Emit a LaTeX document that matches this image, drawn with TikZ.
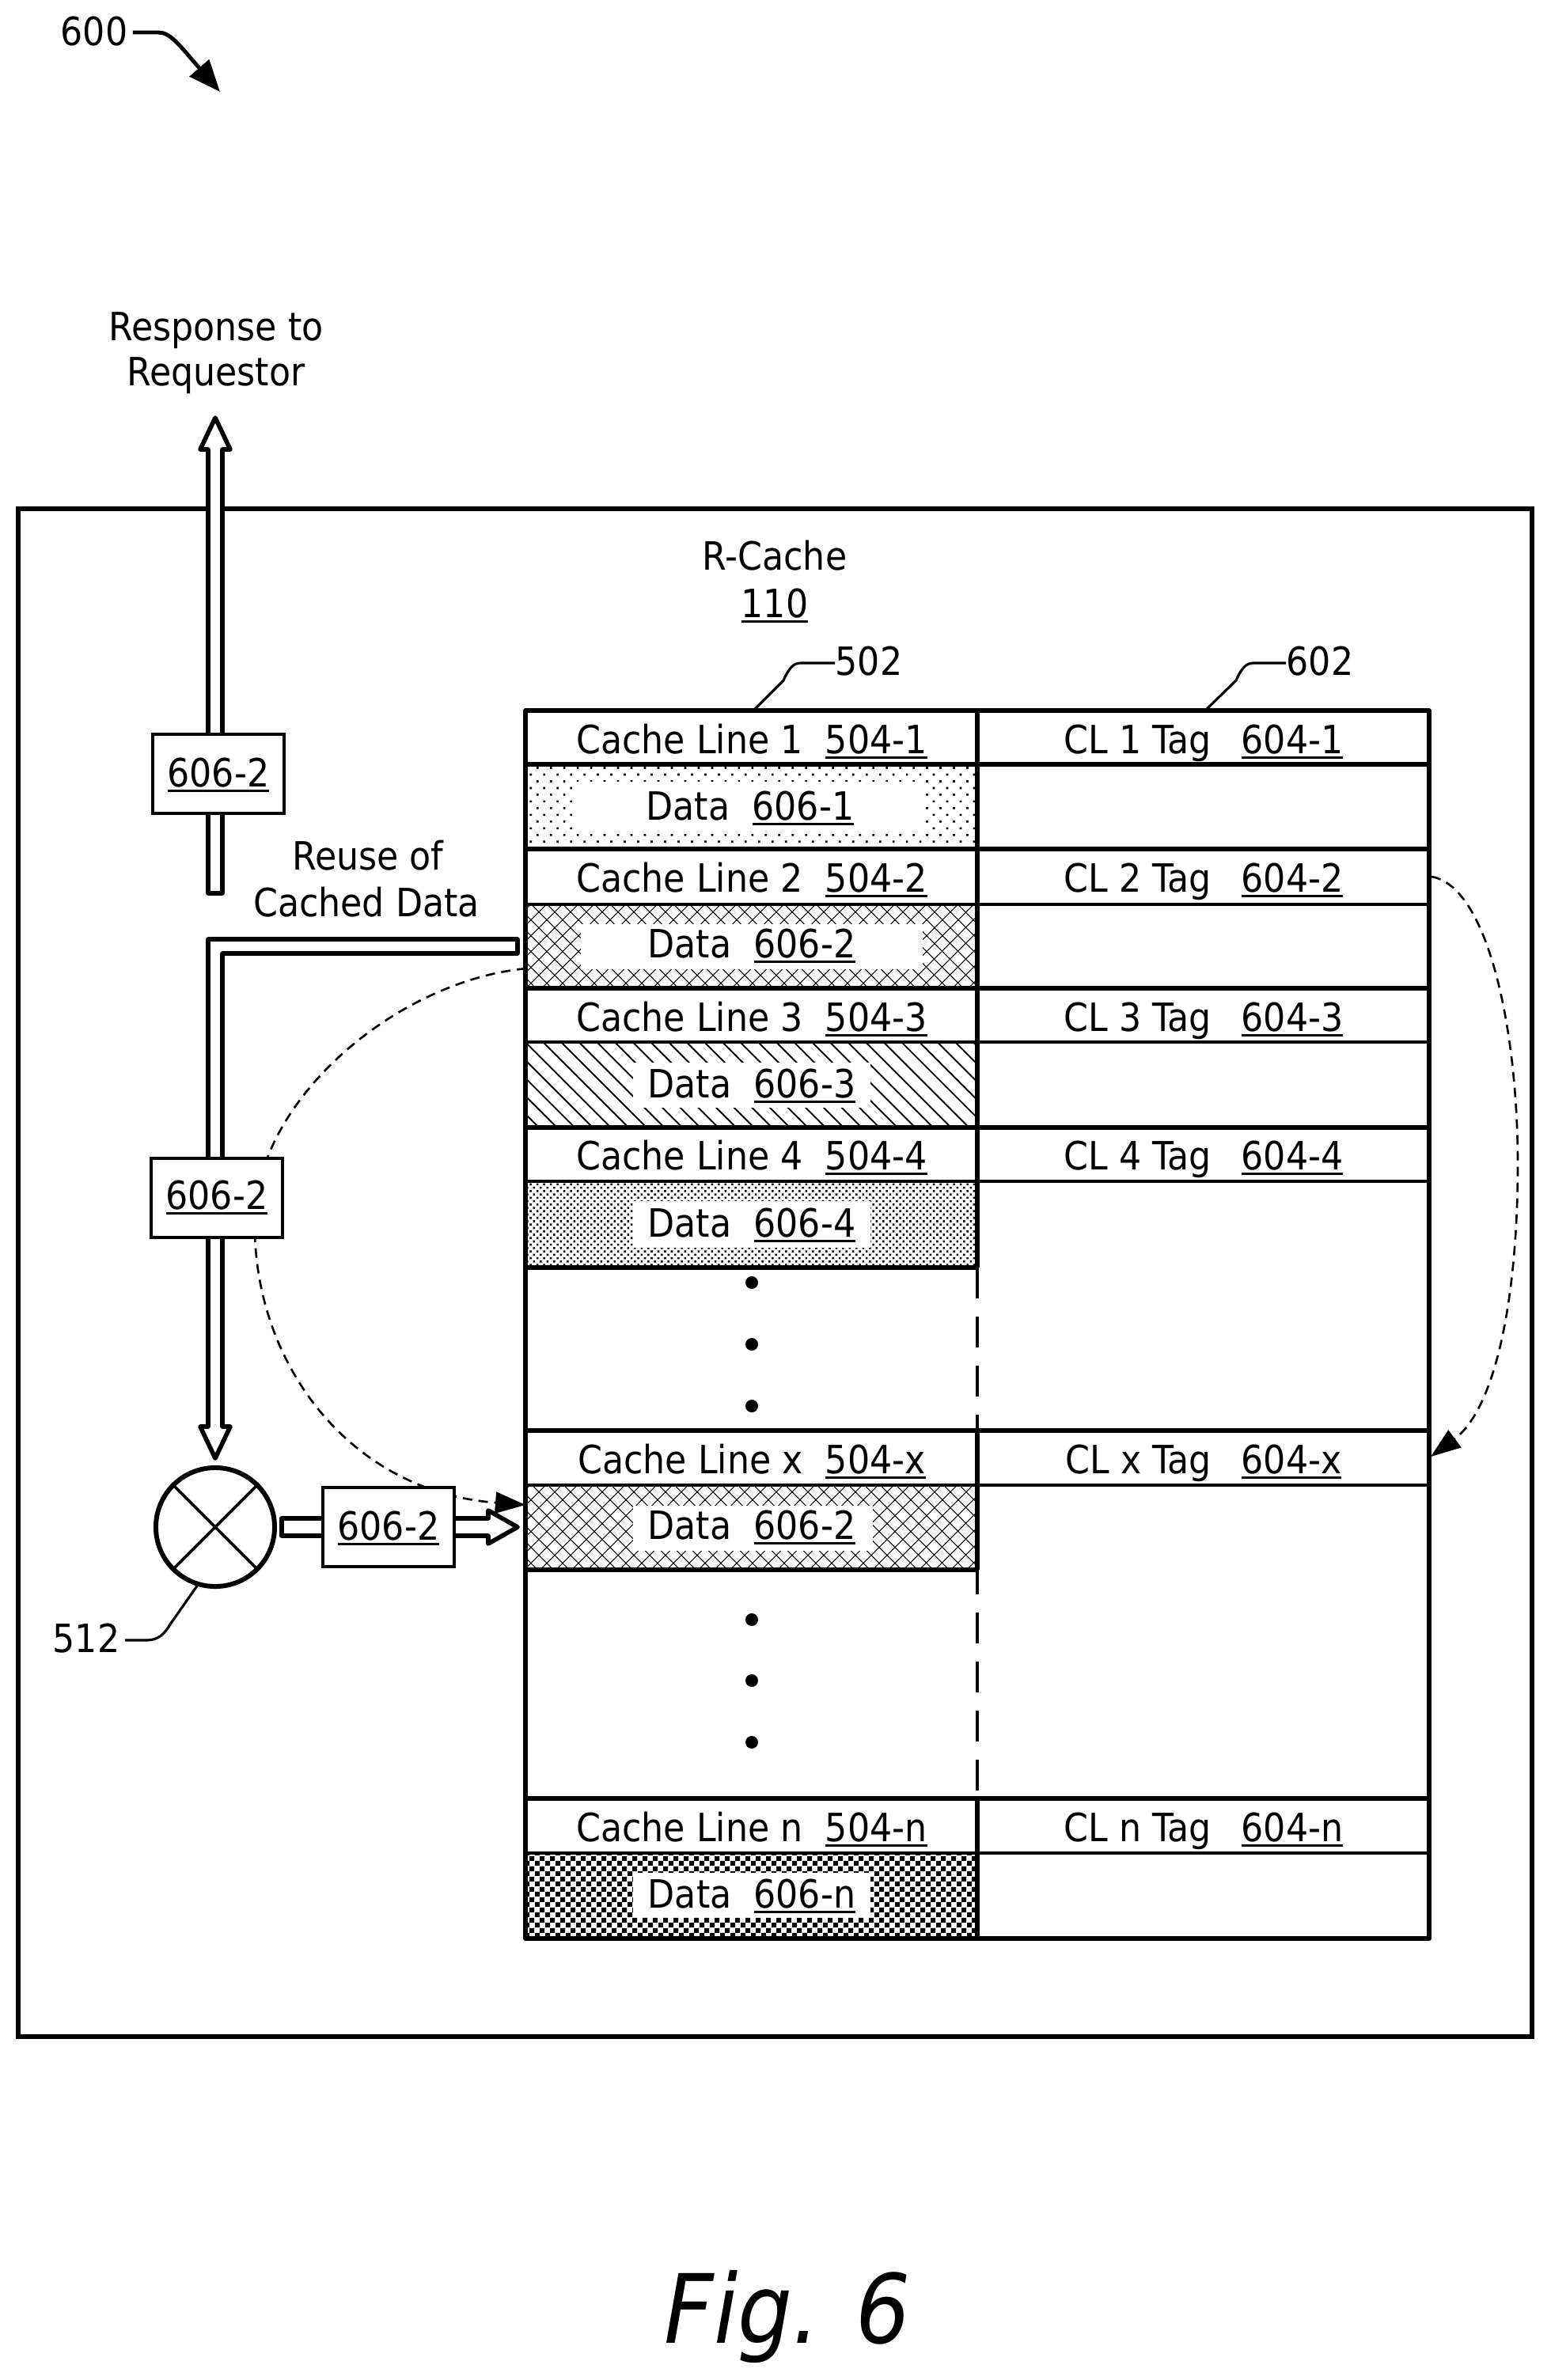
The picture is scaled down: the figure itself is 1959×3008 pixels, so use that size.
\documentclass[tikz,border=0pt]{standalone}
\usepackage{fontspec}
\setmainfont{DejaVu Sans Condensed}
\usetikzlibrary{arrows.meta, patterns, patterns.meta}
\pgfdeclarepatternformonly{cachecheck}{\pgfpointorigin}{\pgfqpoint{3.7pt}{3.7pt}}{\pgfqpoint{3.7pt}{3.7pt}}{
    \pgfpathrectangle{\pgfpointorigin}{\pgfqpoint{1.85pt}{1.85pt}}
    \pgfpathrectangle{\pgfqpoint{1.85pt}{1.85pt}}{\pgfqpoint{1.85pt}{1.85pt}}
    \pgfusepath{fill}
}
\newcommand{\refnum}[1]{\leavevmode\setbox0=\hbox{#1}\rlap{\rule[-1.9pt]{\wd0}{0.8pt}}\box0}
\tikzset{
    heavy/.style={line width=1.5pt},
    medium/.style={line width=1.05pt},
    pipe/.style={line width=1.6pt, fill=white, line join=round},
    curved/.style={line width=0.75pt, dash pattern=on 0.12cm off 0.08cm, -{Triangle[length=0.38cm,width=0.27cm]}},
    leader/.style={line width=0.9pt},
    label/.style={anchor=base},
    payload/.style={draw, line width=0.9pt, fill=white, minimum width=1.66cm, minimum height=1.0cm}
}

\begin{document}
\begin{tikzpicture}[x=0.01cm, y=-0.01cm, every node/.style={font=\fontsize{14}{17}\selectfont, inner sep=0pt}]
    \useasboundingbox (0,0) rectangle (1959,3008);
    % Outer R-Cache box
    \draw[heavy] (23,643) rectangle (1936,2574);
    % Data fills
    \fill[pattern={Dots[distance=0.12cm, angle=45, radius=0.019cm]}] (664,966) rectangle (1235,1073);
    \fill[pattern={Lines[distance=0.14cm, angle=45, line width=0.32pt]}] (664,1143) rectangle (1235,1249);
    \fill[pattern={Lines[distance=0.14cm, angle=-45, line width=0.32pt]}] (664,1143) rectangle (1235,1249);
    \fill[pattern={Lines[distance=0.16cm, angle=-45, line width=0.55pt]}] (664,1317) rectangle (1235,1425);
    \fill[pattern={Dots[distance=0.06cm, angle=45, radius=0.018cm]}] (664,1493) rectangle (1235,1602);
    \fill[pattern={Lines[distance=0.14cm, angle=45, line width=0.32pt]}] (664,1877) rectangle (1235,1984);
    \fill[pattern={Lines[distance=0.14cm, angle=-45, line width=0.32pt]}] (664,1877) rectangle (1235,1984);
    \fill[pattern=cachecheck] (664,2342) rectangle (1235,2450);
    % White plates behind the data text
    \foreach \xa/\ya/\xb/\yb in {728/988/1165/1052, 734/1168/1166/1225, 800/1343/1100/1400, 800/1518/1100/1577, 800/1903/1103/1960, 800/2367/1100/2423}
    {
        \fill[white] (\xa,\ya) rectangle (\xb,\yb);
    }
    % Rules across both columns
    \foreach \y in {898,966,1073,1249,1425,1808,2273,2450}
    {
        \draw[heavy, line cap=round] (664,\y) -- (1806,\y);
    }
    \foreach \y in {1143,1317,1493,1877,2342}
    {
        \draw[medium] (664,\y) -- (1806,\y);
    }
    % Rules of the left column only
    \foreach \y in {1602,1984}
    {
        \draw[heavy] (664,\y) -- (1235,\y);
    }
    % Verticals
    \draw[heavy, line cap=round] (664,898) -- (664,2450);
    \draw[heavy, line cap=round] (1806,898) -- (1806,2450);
    \draw[heavy] (1235,898) -- (1235,1602);
    \draw[heavy] (1235,1808) -- (1235,1984);
    \draw[heavy] (1235,2273) -- (1235,2450);
    \draw[medium, dash pattern=on 0.39cm off 0.23cm] (1235,1602) -- (1235,1808);
    \draw[medium, dash pattern=on 0.39cm off 0.23cm] (1235,1976) -- (1235,2273);
    % Ellipsis dots
    \foreach \y in {1621,1699,1777,2047,2124,2202}
    {
        \fill (950,\y) circle (8);
    }
    % Row text
    \foreach \n/\y in {1/952, 2/1127, 3/1303, 4/1478, x/1862, n/2327}
    {
        \node[label] (line\n) at (950,\y) {Cache Line \n~~\refnum{504-\n}};
        \node[label] (tag\n) at (1521,\y) {CL \n\ Tag~~\hspace{0.1cm}\refnum{604-\n}};
    }
    \node[label] (data1) at (948,1036) {Data~~\refnum{606-1}};
    \node[label] (data2) at (950,1210) {Data~~\refnum{606-2}};
    \node[label] (data3) at (950,1387) {Data~~\refnum{606-3}};
    \node[label] (data4) at (950,1563) {Data~~\refnum{606-4}};
    \node[label] (datax) at (950,1945) {Data~~\refnum{606-2}};
    \node[label] (datan) at (950,2411) {Data~~\refnum{606-n}};
    % Headings
    \node[label] (rcache) at (979,720) {R-Cache};
    \node[label] (rnum) at (979,780) {\refnum{110}};
    \node[label] (resp) at (273,430) {Response to};
    \node[label] (reqr) at (273,487) {Requestor};
    \node[label] (reuse) at (465,1099) {Reuse of};
    \node[label] (cached) at (463,1158) {Cached Data};
    % Reference numerals with leaders
    \node[label, anchor=base west] (n600) at (76,57) {600};
    \node[label, anchor=base west] (n502) at (1055,853) {502};
    \node[label, anchor=base west] (n602) at (1625,853) {602};
    \node[label, anchor=base west] (n512) at (66,2088) {512};
    \coordinate (a600) at (278,116);
    \coordinate (a502) at (952,898);
    \coordinate (a602) at (1523,898);
    \coordinate (a512) at (250,2003);
    \draw[line width=1.4pt, -{Triangle[length=0.4cm,width=0.32cm]}] (n600.east |- 0,41) ++(6,0) -- (200,41) .. controls (215,41) and (225,55) .. (a600);
    \draw[leader] (a502) -- (990,860) .. controls (998,842) and (1004,838) .. (1012,838) -- (n502.west |- 0,838);
    \draw[leader] (a602) -- (1562,860) .. controls (1570,842) and (1576,838) .. (1584,838) -- (n602.west |- 0,838);
    \draw[leader] (n512.east |- 0,2073) ++(6,0) -- (185,2073) .. controls (200,2073) and (208,2065) .. (215,2053) -- (a512);
    % Dashed moves
    \coordinate (srcB) at (1809,1108);
    \coordinate (dstB) at (1808,1841);
    \draw[curved] (srcB) .. controls (1880,1120) and (1918,1300) .. (1918,1471) .. controls (1918,1640) and (1890,1780) .. (dstB);
    \coordinate (srcA) at (665,1224);
    \coordinate (dstA) at (664,1902);
    \draw[curved] (srcA) .. controls (500,1240) and (325,1390) .. (322,1540) .. controls (318,1720) and (440,1885) .. (dstA);
    % Hollow pipes
    \draw[pipe] (263,1129) -- (263,568) -- (253,568) -- (272,528) -- (291,568) -- (281,568) -- (281,1129) -- cycle;
    \draw[pipe] (654,1187) -- (263,1187) -- (263,1803) -- (253,1803) -- (272,1843) -- (291,1803) -- (281,1803) -- (281,1205) -- (654,1205) -- cycle;
    \draw[pipe] (356,1919) rectangle (410,1941);
    \draw[pipe] (570,1919) -- (617,1919) -- (617,1909) -- (654,1930) -- (617,1951) -- (617,1941) -- (570,1941) -- cycle;
    % Payload boxes
    \node[payload] (payup) at (276,978) {};
    \node[label] (payupt) at (276,994) {\refnum{606-2}};
    \node[payload] (paymid) at (274,1514) {};
    \node[label] (paymidt) at (274,1528) {\refnum{606-2}};
    \node[payload] (payin) at (491,1930) {};
    \node[label] (payint) at (491,1946) {\refnum{606-2}};
    % Merge circle
    \node[draw, circle, line width=1.7pt, minimum size=1.5cm, fill=white] (mux) at (272,1930) {};
    \draw[medium] (mux.north west) -- (mux.south east);
    \draw[medium] (mux.north east) -- (mux.south west);
    % Figure label
    \node[label, font=\fontsize{34.4}{40}\selectfont\itshape] (figlabel) at (995,2961) {Fig.\hspace{0.45cm}6};
\end{tikzpicture}
\end{document}
